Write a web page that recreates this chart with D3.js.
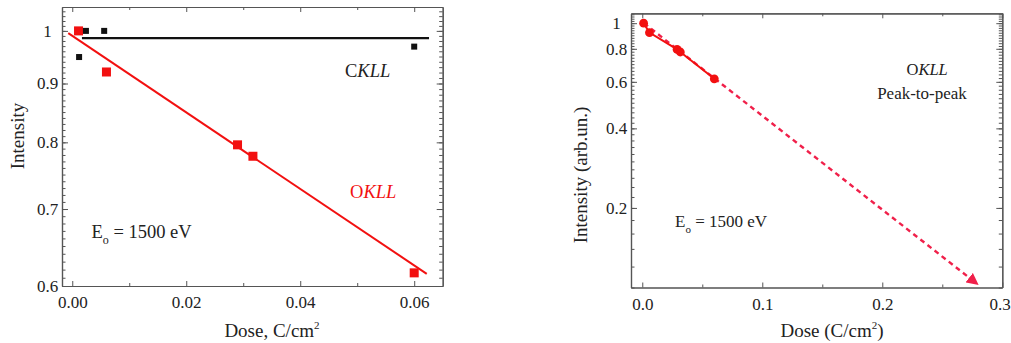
<!DOCTYPE html>
<html>
<head>
<meta charset="utf-8">
<script src="https://cdn.jsdelivr.net/npm/d3@7"></script>
<style>
  body { margin: 0; background: #fff; }
  svg text { font-family: "Liberation Serif", "Times New Roman", serif; fill: #222; }
  .axis path { stroke: #555; stroke-width: 1.2; }
  .axis line { stroke: #555; stroke-width: 1; }
</style>
</head>
<body>
<div id="svgContainer"></div>
<script>
// measured O KLL and C KLL intensities vs dose
const oDose = [0.0011, 0.0060, 0.0290, 0.0317, 0.0600];
const oIntensity = [1.0, 0.921, 0.796, 0.778, 0.616];
const cDose = [0.0012, 0.0024, 0.0056, 0.0600];
const cIntensity = [0.949, 1.0, 1.0, 0.969];

// fitted lines (end points)
const cFitDose = [0.0017, 0.0626];
const cFitIntensity = [0.9855, 0.9855];
const oFitDose = [-0.0007, 0.0622];
const oFitIntensity = [0.9954, 0.6148];
const extrapDose = [0.0014, 0.2787];
const extrapIntensity = [1.0, 0.1035];

// ticks
const leftXTicks = [0, 0.02, 0.04, 0.06];
const leftXMinor = [0.01, 0.03, 0.05];
const leftYTicks = [0.6, 0.7, 0.8, 0.9, 1.0];
const rightXTicks = [0, 0.1, 0.2, 0.3];
const rightXMinor = [0.05, 0.15, 0.25];
const rightYTicks = [0.2, 0.4, 0.6, 0.8, 1.0];

const w = 1011, h = 343;
const red = "#f21010";

const svg = d3.select("#svgContainer").append("svg")
    .attr("width", w)
    .attr("height", h);

function range(a, b, s) {
    let out = [];
    for (let v = a; v <= b + 1e-9; v += s) out.push(+v.toFixed(4));
    return out;
}

function frame(x, y, xTicks, xMinor, xFmt, yTicks, yMinor, yFmt, yLabelX) {
    const [x0, x1] = x.range();
    const [y0, y1] = y.range();
    // bottom
    svg.append("g").attr("class", "axis").attr("transform", `translate(0,${y0})`)
        .call(d3.axisBottom(x).tickValues(xMinor).tickSize(-3).tickFormat("").tickSizeOuter(0));
    const bx = svg.append("g").attr("class", "axis").attr("transform", `translate(0,${y0})`)
        .call(d3.axisBottom(x).tickValues(xTicks).tickSize(-5).tickPadding(10).tickFormat(xFmt).tickSizeOuter(0));
    bx.selectAll("text").style("font-size", "17px");
    // keep the last label inside the page
    bx.selectAll("text").filter(function () {
        return x(+this.__data__) + 14 > w;
    }).attr("text-anchor", "end").attr("x", 8);
    // top
    svg.append("g").attr("class", "axis").attr("transform", `translate(0,${y1})`)
        .call(d3.axisTop(x).tickValues(xMinor).tickSize(-3).tickFormat("").tickSizeOuter(0));
    svg.append("g").attr("class", "axis").attr("transform", `translate(0,${y1})`)
        .call(d3.axisTop(x).tickValues(xTicks).tickSize(-5).tickFormat("").tickSizeOuter(0));
    // left
    svg.append("g").attr("class", "axis").attr("transform", `translate(${x0},0)`)
        .call(d3.axisLeft(y).tickValues(yMinor).tickSize(-3.5).tickFormat("").tickSizeOuter(0));
    const ly = svg.append("g").attr("class", "axis").attr("transform", `translate(${x0},0)`)
        .call(d3.axisLeft(y).tickValues(yTicks).tickSize(-6).tickFormat(yFmt).tickSizeOuter(0));
    ly.selectAll("text")
        .style("font-size", "17px")
        .attr("text-anchor", "middle")
        .attr("x", yLabelX - x0);
    // right
    svg.append("g").attr("class", "axis").attr("transform", `translate(${x1},0)`)
        .call(d3.axisRight(y).tickValues(yMinor).tickSize(-3.5).tickFormat("").tickSizeOuter(0));
    svg.append("g").attr("class", "axis").attr("transform", `translate(${x1},0)`)
        .call(d3.axisRight(y).tickValues(yTicks).tickSize(-6).tickFormat("").tickSizeOuter(0));
}

// ---------- left panel ----------
const xL = d3.scaleLinear().domain([-0.0018, 0.065]).range([62, 442.7]);
const yL = d3.scaleLog().domain([0.6, 1.049]).range([286, 7]);

frame(xL, yL, leftXTicks, leftXMinor, d3.format(".2f"),
    leftYTicks, range(0.6, 1.04, 0.01), d => d === 1 ? "1" : d3.format(".1f")(d), 47.5);

const line = (xs, ys, xd, yd) => d3.line().x((d, i) => xs(xd[i])).y((d, i) => ys(yd[i]))(xd);

svg.append("path").attr("d", line(xL, yL, cFitDose, cFitIntensity))
    .attr("fill", "none").attr("stroke", "#111").attr("stroke-width", 2.2);
svg.append("path").attr("d", line(xL, yL, oFitDose, oFitIntensity))
    .attr("fill", "none").attr("stroke", red).attr("stroke-width", 2);

svg.selectAll(".osq").data(oDose).enter().append("rect")
    .attr("x", (d) => xL(d) - 4.5)
    .attr("y", (d, i) => yL(oIntensity[i]) - 4.5)
    .attr("width", 9).attr("height", 9)
    .attr("fill", red);
svg.selectAll(".csq").data(cDose).enter().append("rect")
    .attr("x", (d) => xL(d) - 3)
    .attr("y", (d, i) => yL(cIntensity[i]) - 3)
    .attr("width", 6).attr("height", 6)
    .attr("fill", "#111");

let t = svg.append("text").attr("x", 345).attr("y", 76.5).style("font-size", "18.5px");
t.append("tspan").text("C");
t.append("tspan").style("font-style", "italic").text("KLL");
t = svg.append("text").attr("x", 350).attr("y", 198).style("font-size", "18.5px");
t.append("tspan").style("fill", red).text("O");
t.append("tspan").style("fill", red).style("font-style", "italic").text("KLL");

t = svg.append("text").attr("x", 91.5).attr("y", 237.5).style("font-size", "18.5px");
t.append("tspan").text("E");
t.append("tspan").attr("dy", 6).style("font-size", "12px").text("o");
t.append("tspan").attr("dy", -6).text(" = 1500 eV");

svg.append("text").attr("transform", "translate(24,136) rotate(-90)")
    .attr("text-anchor", "middle").style("font-size", "19px").text("Intensity");
t = svg.append("text").attr("x", 272).attr("y", 336.5).attr("text-anchor", "middle").style("font-size", "19px");
t.append("tspan").text("Dose, C/cm");
t.append("tspan").attr("dy", -8).style("font-size", "11px").text("2");

// ---------- right panel ----------
const xR = d3.scaleLinear().domain([-0.0094, 0.3]).range([631, 1002.3]);
const yR = d3.scaleLog().domain([0.1, 1.09]).range([287.5, 13.3]);

frame(xR, yR, rightXTicks, rightXMinor, d3.format(".1f"),
    rightYTicks, range(0.1, 1.08, 0.02), d => d === 1 ? "1" : d3.format(".1f")(d), 616.5);

svg.append("defs").append("marker")
    .attr("id", "arrow").attr("viewBox", "0 0 10 10")
    .attr("refX", 8).attr("refY", 5)
    .attr("markerWidth", 5).attr("markerHeight", 5)
    .attr("orient", "auto")
    .append("path").attr("d", "M0,0 L10,5 L0,10 z").attr("fill", "#f0204a");

svg.append("path").attr("d", line(xR, yR, extrapDose, extrapIntensity))
    .attr("fill", "none").attr("stroke", "#f0204a").attr("stroke-width", 2.4)
    .attr("stroke-dasharray", "5,4")
    .attr("marker-end", "url(#arrow)");
svg.append("path").attr("d", line(xR, yR, oDose, oIntensity))
    .attr("fill", "none").attr("stroke", red).attr("stroke-width", 2);

svg.selectAll(".ocirc").data(oDose).enter().append("circle")
    .attr("cx", (d) => xR(d))
    .attr("cy", (d, i) => yR(oIntensity[i]))
    .attr("r", 4.4)
    .attr("fill", red);

t = svg.append("text").attr("x", 906.5).attr("y", 75).style("font-size", "16.5px");
t.append("tspan").text("O");
t.append("tspan").style("font-style", "italic").text("KLL");
svg.append("text").attr("x", 922).attr("y", 98.5).attr("text-anchor", "middle")
    .style("font-size", "17px").text("Peak-to-peak");

t = svg.append("text").attr("x", 675).attr("y", 226.5).style("font-size", "17px");
t.append("tspan").text("E");
t.append("tspan").attr("dy", 6).style("font-size", "11px").text("o");
t.append("tspan").attr("dy", -6).text(" = 1500 eV");

svg.append("text").attr("transform", "translate(587,175) rotate(-90)")
    .attr("text-anchor", "middle").style("font-size", "19px").text("Intensity (arb.un.)");
t = svg.append("text").attr("x", 832).attr("y", 336.5).attr("text-anchor", "middle").style("font-size", "19px");
t.append("tspan").text("Dose (C/cm");
t.append("tspan").attr("dy", -8).style("font-size", "11px").text("2");
t.append("tspan").attr("dy", 8).text(")");
</script>
</body>
</html>
